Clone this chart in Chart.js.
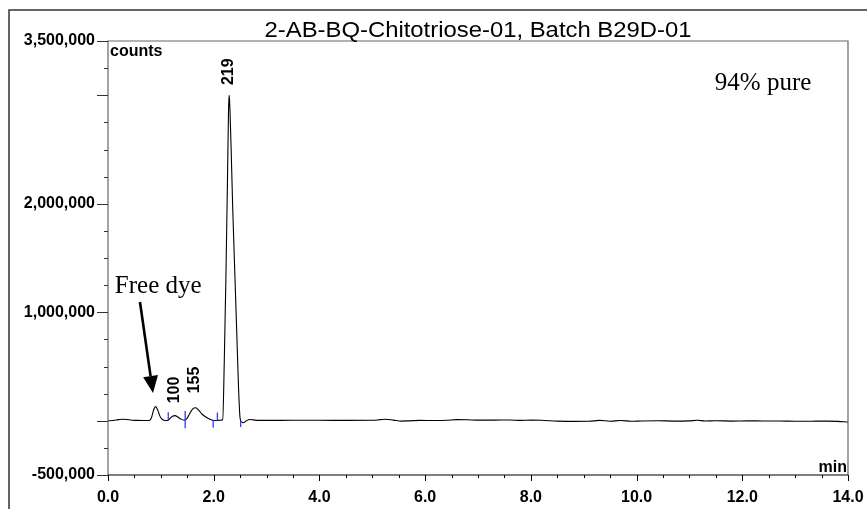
<!DOCTYPE html>
<html><head><meta charset="utf-8">
<script src="https://cdn.jsdelivr.net/npm/chart.js@4/dist/chart.umd.min.js"></script>
<style>html,body{margin:0;padding:0;background:#fff;overflow:hidden}</style>
</head><body>
<canvas id="c" width="867" height="509" style="display:block;width:867px;height:509px"></canvas>
<script>
// ---- data (retention time in min, signal in counts) ----
const times = [0.0,0.1,0.2,0.28,0.36,0.45,0.55,0.65,0.72,0.78,0.82,0.86,0.90,0.94,0.98,1.02,1.06,1.10,1.14,1.18,1.22,1.27,1.32,1.38,1.44,1.50,1.55,1.60,1.66,1.72,1.78,1.85,1.92,1.99,2.06,2.12,2.17,2.20,2.23,2.26,2.28,2.29,2.30,2.33,2.36,2.40,2.44,2.47,2.50,2.53,2.56,2.62,2.68,2.75,2.85,3.0,3.5,4.0,4.5,5.0,5.15,5.25,5.4,5.55,5.7,5.9,6.2,6.4,6.6,6.8,7.0,7.3,7.6,7.8,8.0,8.2,8.5,8.8,9.1,9.3,9.5,9.7,9.9,10.1,10.4,10.7,11.0,11.15,11.3,11.5,11.8,12.1,12.4,12.7,13.0,13.3,13.6,13.8,14.0];
const counts = [0,2000,10000,14000,12000,5000,3000,2000,2000,3000,25000,95000,130000,100000,45000,15000,4000,2000,5000,25000,42000,47000,35000,15000,5000,25000,70000,108000,120000,95000,60000,35000,15000,3000,2000,5000,10000,550000,1300000,2200000,2850000,3000000,2950000,2500000,1950000,1350000,750000,300000,20000,-12000,-18000,0,12000,8000,3000,3000,4000,4000,3000,4000,10000,14000,6000,-3000,-1000,3000,2000,4000,10000,9000,6000,6000,7000,3000,6000,4000,-3000,-6000,-5000,3000,-4000,2000,-5000,-2000,0,-3000,-1000,4000,-2000,0,-3000,-1000,-2000,-2000,-5000,-4000,-3000,-6000,-12000];

// integration markers (blue)
const markerX = [1.14,1.46,1.99,2.07,2.51];
const markerTop = [78000,90000,10000,75000,-3000];
const markerBottom = [0,-70000,-65000,0,-58000];

// axis ticks / labels
const xMin = 0, xMax = 14, xStep = 2, xMinorStep = 0.5;
const yMin = -500000, yMax = 3500000, yMinorStep = 250000;
const yLabelValues = [3500000,2000000,1000000,-500000];
const yMajorTickValues = [3500000,3000000,2000000,1000000,0,-500000];

// peak labels
const peakLabels = ['219','100','155'];
const peakLabelX = [2.29,1.252,1.646];
const peakLabelY = [3094000,161000,253000];

// texts
const titleText = '2-AB-BQ-Chitotriose-01, Batch B29D-01';
const yUnit = 'counts';
const xUnit = 'min';
const noteTexts = ['94% pure','Free dye'];
const noteX = [11.48,0.13];
const noteY = [3048000,1177000];
const arrowFrom = [0.605,1094000];
const arrowTo = [0.851,256000];

// ---- build datasets ----
const trace = times.map((t,i)=>({x:t,y:counts[i]}));
const markers = [];
markerX.forEach((mx,i)=>{
  markers.push({x:mx,y:markerTop[i]});
  markers.push({x:mx,y:markerBottom[i]});
  markers.push({x:mx,y:null});
});

const overlay = {
  id:'overlay',
  afterDraw(chart){
    const ctx = chart.ctx, a = chart.chartArea;
    const xs = chart.scales.x, ys = chart.scales.y;
    ctx.save();
    // plot frame
    ctx.strokeStyle = '#666'; ctx.lineWidth = 1.2;
    ctx.beginPath();
    ctx.moveTo(a.left, a.bottom); ctx.lineTo(a.left, a.top); ctx.lineTo(a.right, a.top); ctx.lineTo(a.right, a.bottom);
    ctx.stroke();
    ctx.strokeStyle = '#000'; ctx.lineWidth = 1.2;
    ctx.beginPath(); ctx.moveTo(a.left, a.bottom); ctx.lineTo(a.right, a.bottom); ctx.stroke();
    // y ticks
    ctx.strokeStyle = '#333'; ctx.lineWidth = 1;
    for (let v = yMin; v <= yMax + 1; v += yMinorStep) {
      const py = Math.round(ys.getPixelForValue(v)) + 0.5;
      const len = yMajorTickValues.includes(v) ? 11 : 4;
      ctx.beginPath(); ctx.moveTo(a.left - len, py); ctx.lineTo(a.left, py); ctx.stroke();
    }
    // x ticks
    ctx.strokeStyle = '#000';
    for (let v = xMin; v <= xMax + 1e-9; v += xMinorStep) {
      const px = Math.round(xs.getPixelForValue(v)) + 0.5;
      const major = Math.abs(v / xStep - Math.round(v / xStep)) < 1e-6;
      const len = major ? 6 : 3;
      ctx.beginPath(); ctx.moveTo(px, a.bottom); ctx.lineTo(px, a.bottom + len); ctx.stroke();
    }
    // title
    ctx.fillStyle = '#000';
    ctx.font = '22px "Liberation Sans", Arial, sans-serif';
    ctx.textBaseline = 'alphabetic';
    const tw = ctx.measureText(titleText).width;
    const targetW = 427;
    ctx.save();
    ctx.translate((a.left + a.right) / 2, 37);
    ctx.scale(targetW / tw, 1);
    ctx.textAlign = 'center';
    ctx.fillText(titleText, 0, 0);
    ctx.restore();
    // units
    ctx.font = 'bold 16px "Liberation Sans", Arial, sans-serif';
    ctx.textAlign = 'left'; ctx.textBaseline = 'alphabetic';
    ctx.fillText(yUnit, a.left + 2, a.top + 15);
    ctx.textAlign = 'right';
    ctx.fillText(xUnit, a.right - 1, a.bottom - 3);
    // peak labels (rotated)
    ctx.font = 'bold 16px "Liberation Sans", Arial, sans-serif';
    peakLabels.forEach((t,i)=>{
      ctx.save();
      ctx.translate(xs.getPixelForValue(peakLabelX[i]), ys.getPixelForValue(peakLabelY[i]));
      ctx.rotate(-Math.PI/2);
      ctx.textAlign = 'left'; ctx.textBaseline = 'middle';
      ctx.fillText(t, 0, 0);
      ctx.restore();
    });
    // notes
    ctx.font = '25px "Liberation Serif", "Times New Roman", serif';
    ctx.textAlign = 'left'; ctx.textBaseline = 'alphabetic';
    noteTexts.forEach((t,i)=>{
      ctx.fillText(t, xs.getPixelForValue(noteX[i]), ys.getPixelForValue(noteY[i]));
    });
    // arrow
    const x1 = xs.getPixelForValue(arrowFrom[0]), y1 = ys.getPixelForValue(arrowFrom[1]);
    const x2 = xs.getPixelForValue(arrowTo[0]), y2 = ys.getPixelForValue(arrowTo[1]);
    const ang = Math.atan2(y2 - y1, x2 - x1);
    const hl = 17, hw = 7.5;
    const bx = x2 - hl * Math.cos(ang), by = y2 - hl * Math.sin(ang);
    ctx.strokeStyle = '#000'; ctx.lineWidth = 2.6;
    ctx.beginPath(); ctx.moveTo(x1, y1); ctx.lineTo(bx, by); ctx.stroke();
    ctx.beginPath();
    ctx.moveTo(x2, y2);
    ctx.lineTo(bx + hw * Math.sin(ang), by - hw * Math.cos(ang));
    ctx.lineTo(bx - hw * Math.sin(ang), by + hw * Math.cos(ang));
    ctx.closePath(); ctx.fill();
    // outer frame
    ctx.strokeStyle = '#333'; ctx.lineWidth = 1.5;
    ctx.beginPath(); ctx.moveTo(9, 520); ctx.lineTo(9, 10); ctx.lineTo(880, 10); ctx.stroke();
    ctx.restore();
  }
};

new Chart(document.getElementById('c'), {
  type: 'scatter',
  data: {
    datasets: [
      { data: trace, showLine: true, borderColor: '#000', borderWidth: 1.1, pointRadius: 0, cubicInterpolationMode: 'monotone', order: 2 },
      { data: markers, showLine: true, spanGaps: false, borderColor: '#2b3cff', borderWidth: 1.3, pointRadius: 0, order: 1 }
    ]
  },
  options: {
    responsive: false,
    animation: false,
    devicePixelRatio: 1,
    layout: { padding: { top: 41, right: 19, left: 0, bottom: 0 } },
    plugins: { legend: { display: false }, tooltip: { enabled: false } },
    scales: {
      x: {
        type: 'linear', min: xMin, max: xMax,
        border: { display: false },
        grid: { display: false, drawTicks: false },
        ticks: { stepSize: xStep, padding: 13, color: '#000', maxRotation: 0, autoSkip: false,
          font: { family: '"Liberation Sans", Arial, sans-serif', size: 16, weight: 'bold' },
          callback: v => Number(v).toFixed(1) },
        afterFit: s => { s.height = 34; s.paddingLeft = 0; s.paddingRight = 0; }
      },
      y: {
        type: 'linear', min: yMin, max: yMax,
        border: { display: false },
        grid: { display: false, drawTicks: false },
        ticks: { stepSize: 500000, padding: 13, color: '#000', autoSkip: false,
          font: { family: '"Liberation Sans", Arial, sans-serif', size: 16, weight: 'bold' },
          callback: v => yLabelValues.includes(v) ? Number(v).toLocaleString('en-US') : '' },
        afterFit: s => { s.width = 108; s.paddingTop = 0; s.paddingBottom = 0; }
      }
    }
  },
  plugins: [overlay]
});
</script>
</body></html>
